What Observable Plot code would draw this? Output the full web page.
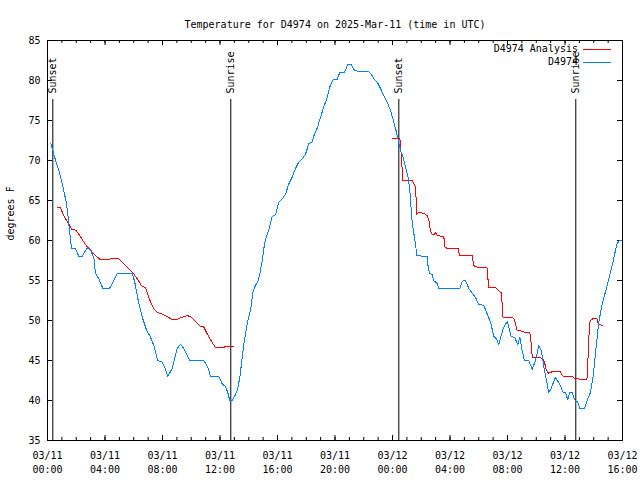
<!DOCTYPE html>
<html>
<head>
<meta charset="utf-8">
<script src="https://cdn.jsdelivr.net/npm/d3@7"></script>
<script src="https://cdn.jsdelivr.net/npm/@observablehq/plot@0.6"></script>
<style>
  html, body { margin: 0; padding: 0; background: white; }
  #chart { width: 640px; height: 480px; }
</style>
</head>
<body>
<div id="chart"></div>
<script>
// ---------- data (hours after 2025-03-11 00:00 UTC) ----------
const titleText = "Temperature for D4974 on 2025-Mar-11 (time in UTC)";
const yLabel = "degrees F";
const seriesNames = ["D4974 Analysis", "D4974"];
const seriesColors = ["#ff0000", "#0080ff"];

const obsHours = [0.23,0.37,0.56,0.79,0.97,1.13,1.30,1.44,1.53,1.67,1.95,2.18,2.41,2.76,2.99,3.22,3.34,3.57,3.85,4.31,4.50,4.85,5.89,6.07,6.31,6.59,6.89,7.17,7.39,7.67,7.98,8.21,8.37,8.67,9.02,9.25,9.44,9.72,9.90,10.87,11.15,11.34,11.92,12.15,12.38,12.54,12.68,12.85,13.01,13.20,13.38,13.66,13.89,14.12,14.31,14.47,14.63,14.77,14.94,15.05,15.17,15.39,15.63,15.86,16.09,16.33,16.56,16.79,17.02,17.25,17.48,17.72,17.95,18.18,18.41,18.57,18.80,18.99,19.22,19.46,19.64,19.87,20.15,20.33,20.66,20.89,21.13,21.38,22.35,22.59,22.75,22.94,23.17,23.40,23.63,23.86,24.09,24.28,24.40,24.56,24.74,24.90,25.09,25.18,25.25,25.32,25.41,25.51,25.60,25.69,26.41,26.48,26.57,26.76,26.87,27.11,27.22,28.68,28.85,29.08,29.31,29.59,29.77,30.00,30.35,30.59,30.82,31.05,31.23,31.39,31.70,31.98,32.26,32.49,32.72,32.86,33.02,33.18,33.48,33.72,33.95,34.18,34.35,34.53,34.71,34.87,35.04,35.18,35.34,35.50,35.64,35.87,36.03,36.19,36.33,36.50,36.66,36.89,37.03,37.36,37.54,37.77,37.96,38.19,38.35,38.59,38.94,39.36,39.60,39.79,40.0];
const obsTemps = [72.1,71.25,70,68.75,67.5,66.25,64.8,62.9,61.25,59,59,58,58,59.1,58.8,57.9,55.9,55.2,54,54,54.6,55.9,55.9,54.8,52.5,50.4,48.8,47.9,46.9,45,44.8,43.9,43,44,46.5,47,46.6,45.6,45,45,44.2,43,43,42.1,41.75,41,40,40,40.5,41.25,42.9,47.1,49.6,51.25,53.75,54.4,54.8,55.8,57.5,59,60.2,61.25,63,63.2,64.8,65.2,65.8,67.1,67.9,69,69.8,70.2,70.8,72.1,72.3,73.3,74.2,75.4,76.7,77.9,79.2,80.1,80.1,81,81,82,82,81.2,81.1,80.6,80.1,79.8,79,78.1,77.3,76.25,74.8,73.5,72.5,71.25,70.4,69.2,67.9,66.7,65.4,63.1,61.7,60.6,59.6,58.1,58,56.7,55.9,55.75,55,54.6,54,54,54.9,55,54,53.3,52.9,52,51.9,50.8,49.8,48,47.7,47,49,49.9,48,47.9,47,47.9,46.25,45,45,43.9,45,46.9,46.25,44.2,42.5,41,41.5,42.2,42.9,42.4,42,41,41,40.1,41,41,40.1,39.8,39,39,40,41,43.1,47.1,49.8,52.1,54.4,57.5,59.5,60,60];

const anaHours = [0.67,0.90,1.13,1.37,1.53,1.67,1.95,2.18,2.46,2.76,2.99,3.34,3.69,4.22,4.50,4.92,5.31,5.77,5.93,6.24,6.59,6.82,7.17,7.39,7.65,7.97,8.33,8.67,9.01,9.37,9.72,9.95,10.30,10.64,10.87,11.06,11.34,11.69,12.22,12.38,12.92,
  18.0,
  24.00,24.44,24.51,24.56,24.63,24.68,24.72,25.37,25.48,25.60,25.65,25.67,25.83,26.18,26.41,26.53,26.64,26.76,26.87,26.99,27.11,27.57,27.64,27.81,28.57,28.66,29.54,29.66,29.77,30.57,30.64,30.70,31.17,31.46,31.57,31.63,31.69,32.44,32.56,32.67,32.90,33.25,33.55,33.65,33.72,34.41,34.57,34.71,34.87,35.11,35.69,35.81,35.92,36.50,36.66,36.85,37.08,37.52,37.57,37.62,37.71,37.77,38.00,38.21,38.28,38.35,38.59];
const anaTemps = [64.1,64.1,63.1,62.4,61.9,61.4,61.3,60.8,60,59.2,58.8,58.1,57.6,57.6,57.8,57.8,57.1,56.25,56,55.2,54.25,54.1,52.3,51.5,51,50.8,50.5,50.1,50.15,50.4,50.6,50.5,49.85,49.25,49.2,48.5,47.6,46.6,46.6,46.75,46.75,
  null,
  72.7,72.7,72.8,71.7,70.4,68.5,67.5,67.5,67.1,66.7,65,63.3,63.5,63.4,63.1,62.5,61.25,60.8,60.7,61,60.6,60.5,59.2,59,59,58.1,58.1,56.9,56.7,56.6,55.2,54.15,54.15,53.6,53.5,52,50.4,50.3,49.6,48.75,48.7,48.5,48.5,47.1,45.4,45.3,44.8,43.75,43.4,43.6,43.6,43.1,43,43,42.8,42.8,42.6,42.6,43.75,46.25,49.6,50,50.3,50.3,49.8,49.5,49.4];

const sunHours = [0.37, 12.75, 24.44, 36.75];
const sunLabels = ["Sunset", "Sunrise", "Sunset", "Sunrise"];

const yTicks = [35, 40, 45, 50, 55, 60, 65, 70, 75, 80, 85];
const xMajorHours = [0, 4, 8, 12, 16, 20, 24, 28, 32, 36, 40];
const xMinorHours = d3.range(0, 41, 1);
const xDomainHours = [0, 40];

// ---------- helpers ----------
const base = Date.UTC(2025, 2, 11);
const toDate = h => new Date(base + h * 3600000);
const obs = obsHours.map((h, i) => ({t: toDate(h), v: obsTemps[i]}));
const ana = anaHours.map((h, i) => ({t: toDate(h), v: anaTemps[i]}));
const sun = sunHours.map((h, i) => ({t: toDate(h), label: sunLabels[i]}));
const xMajor = xMajorHours.map(toDate);
const xMinor = xMinorHours.map(toDate);
const fmt = d3.utcFormat("%m/%d\n%H:%M");

const W = 640, H = 480, mL = 47, mR = 18, mT = 40, mB = 40;
const fw = W - mL - mR, fh = H - mT - mB;

function legendMark(index, scales, values, dims) {
  const g = d3.create("svg:g");
  const xr = dims.width - dims.marginRight;
  seriesNames.forEach((name, i) => {
    const y = dims.marginTop + 9 + i * 13;
    g.append("text")
      .attr("x", xr - 44).attr("y", y).attr("dy", "0.32em")
      .attr("text-anchor", "end").attr("fill", "black")
      .text(name);
    g.append("line")
      .attr("x1", xr - 39).attr("x2", xr - 11)
      .attr("y1", y + 0.5).attr("y2", y + 0.5)
      .attr("stroke", seriesColors[i]).attr("stroke-width", 1);
  });
  return g.node();
}

const chart = Plot.plot({
  width: W, height: H,
  marginLeft: mL, marginRight: mR, marginTop: mT, marginBottom: mB,
  style: {fontFamily: "DejaVu Sans Mono", fontSize: "10px", background: "white", color: "black"},
  x: {type: "utc", domain: xDomainHours.map(toDate), axis: null},
  y: {domain: [35, 85], axis: null},
  marks: [
    // tick marks (inward, mirrored)
    Plot.ruleY(yTicks, {y: d => d, insetRight: fw - 5, stroke: "black"}),
    Plot.ruleY(yTicks, {y: d => d, insetLeft: fw - 5, stroke: "black"}),
    Plot.ruleX(xMinor, {x: d => d, insetTop: fh - 3, stroke: "black"}),
    Plot.ruleX(xMinor, {x: d => d, insetBottom: fh - 3, stroke: "black"}),
    Plot.ruleX(xMajor, {x: d => d, insetTop: fh - 5, stroke: "black"}),
    Plot.ruleX(xMajor, {x: d => d, insetBottom: fh - 5, stroke: "black"}),
    // tick labels
    Plot.text(yTicks, {y: d => d, text: d => String(d), frameAnchor: "left", dx: -7, textAnchor: "end", fill: "black"}),
    Plot.text(xMajor, {x: d => d, text: d => fmt(d), frameAnchor: "bottom", dy: 9, lineAnchor: "top", lineHeight: 1.4, fill: "black"}),
    // axis label and title
    Plot.text([yLabel], {text: d => d, frameAnchor: "left", dx: -37, rotate: -90, fill: "black"}),
    Plot.text([titleText], {text: d => d, frameAnchor: "top", dy: -20, fill: "black"}),
    // sunrise / sunset
    Plot.ruleX(sun, {x: "t", insetTop: 59, stroke: "black", strokeWidth: 1}),
    Plot.text(sun, {x: "t", text: "label", frameAnchor: "top", dy: 53, rotate: -90, textAnchor: "start", lineAnchor: "middle", fill: "black"}),
    // data
    Plot.line(ana, {x: "t", y: "v", stroke: seriesColors[0], strokeWidth: 1, shapeRendering: "crispEdges"}),
    Plot.line(obs, {x: "t", y: "v", stroke: seriesColors[1], strokeWidth: 1, shapeRendering: "crispEdges"}),
    Plot.frame({stroke: "black", strokeWidth: 1}),
    legendMark
  ]
});
document.getElementById("chart").appendChild(chart);
</script>
</body>
</html>
